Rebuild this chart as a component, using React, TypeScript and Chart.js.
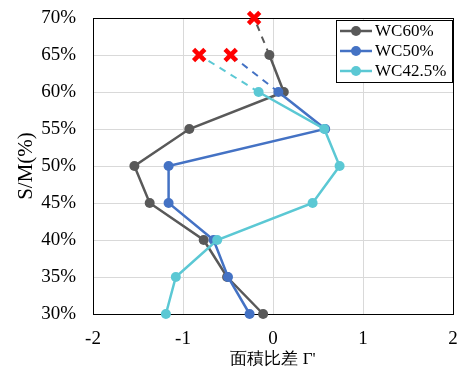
import React, { useEffect, useRef } from "react";
import { Chart, registerables } from "chart.js";
Chart.register(...registerables);

const seriesNames = ["WC60%", "WC50%", "WC42.5%"];
const seriesColors = ["#595959", "#4472C4", "#5BC8D4"];

const wc60Y = [30, 35, 40, 45, 50, 55, 60, 65];
const wc60X = [-0.11, -0.51, -0.77, -1.37, -1.54, -0.93, 0.12, -0.04];
const wc50Y = [30, 35, 40, 45, 50, 55, 60];
const wc50X = [-0.26, -0.5, -0.66, -1.16, -1.16, 0.58, 0.06];
const wc42Y = [30, 35, 40, 45, 50, 55, 60];
const wc42X = [-1.19, -1.08, -0.62, 0.44, 0.74, 0.57, -0.16];

const failX = [-0.21, -0.47, -0.82];
const failY = [70, 65, 65];

const xTicks = [-2, -1, 0, 1, 2];
const yTicks = [30, 35, 40, 45, 50, 55, 60, 65, 70];

const FONT = '"Liberation Serif", "Times New Roman", serif';

const pts = (xs: number[], ys: number[]) => xs.map((x, i) => ({ x, y: ys[i] }));

export default function App() {
  const ref = useRef<HTMLCanvasElement>(null);
  useEffect(() => {
    document.body.style.margin = "0";
    const ctx = ref.current!.getContext("2d")!;
    const seriesX = [wc60X, wc50X, wc42X];
    const seriesY = [wc60Y, wc50Y, wc42Y];
    const datasets: any[] = [];
    seriesX.forEach((xs, i) => {
      const ys = seriesY[i];
      datasets.push({
        label: seriesNames[i],
        data: pts(xs, ys),
        showLine: true,
        borderColor: seriesColors[i],
        backgroundColor: seriesColors[i],
        borderWidth: 2.5,
        pointRadius: 5,
        pointBorderWidth: 0,
        order: 3 - i,
        clip: false,
      });
      const last = xs.length - 1;
      datasets.push({
        label: "dash" + i,
        data: [
          { x: xs[last], y: ys[last] },
          { x: failX[i], y: failY[i] },
        ],
        showLine: true,
        borderColor: seriesColors[i],
        borderWidth: 2,
        borderDash: [7, 6],
        pointRadius: 0,
        order: 5,
        clip: false,
      });
    });
    datasets.push({
      label: "fail",
      data: pts(failX, failY),
      showLine: false,
      pointStyle: "crossRot",
      pointRadius: 8,
      borderColor: "#ff0000",
      backgroundColor: "#ff0000",
      pointBorderWidth: 4.5,
      borderWidth: 4.5,
      order: 0,
      clip: false,
    });

    const framePlugin = {
      id: "frame",
      beforeDatasetsDraw(chart: any) {
        const c = chart.ctx;
        const a = chart.chartArea;
        c.save();
        c.strokeStyle = "#000";
        c.lineWidth = 1;
        c.strokeRect(a.left + 0.5, a.top + 0.5, a.right - a.left, a.bottom - a.top);
        c.restore();
      },
      afterDraw(chart: any) {
        const c = chart.ctx;
        c.save();
        c.strokeStyle = "#000";
        c.lineWidth = 1;
        // legend
        const bx = 336, by = 20, bw = 116, bh = 62;
        c.fillStyle = "#fff";
        c.fillRect(bx, by, bw, bh);
        c.strokeRect(bx + 0.5, by + 0.5, bw, bh);
        c.font = `17px ${FONT}`;
        c.textBaseline = "middle";
        seriesNames.forEach((n, i) => {
          const yy = by + 11 + i * 20;
          c.strokeStyle = seriesColors[i];
          c.lineWidth = 2.5;
          c.beginPath();
          c.moveTo(340, yy);
          c.lineTo(372, yy);
          c.stroke();
          c.fillStyle = seriesColors[i];
          c.beginPath();
          c.arc(356, yy, 5, 0, Math.PI * 2);
          c.fill();
          c.fillStyle = "#000";
          c.fillText(n, 375, yy + 1);
        });
        c.restore();
      },
    };

    const chart = new Chart(ctx, {
      type: "scatter",
      data: { datasets },
      plugins: [framePlugin],
      options: {
        animation: false,
        responsive: false,
        maintainAspectRatio: false,
        layout: { padding: { top: 18, right: 14, left: 0, bottom: 0 } },
        plugins: { legend: { display: false }, tooltip: { enabled: false } },
        scales: {
          x: {
            type: "linear",
            min: -2,
            max: 2,
            afterBuildTicks: (s: any) => {
              s.ticks = xTicks.map((v) => ({ value: v }));
            },
            grid: { color: "#d9d9d9", drawTicks: false },
            border: { color: "#000", width: 1 },
            ticks: { color: "#000", font: { family: FONT, size: 19 }, padding: 14, maxRotation: 0 },
            title: {
              display: true,
              text: "面積比差 Γ'",
              color: "#000",
              font: { family: FONT, size: 17 },
              padding: { top: 0, bottom: 0 },
            },
            afterFit: (s: any) => {
              s.height = 56;
              s.paddingLeft = 0;
              s.paddingRight = 0;
              s.paddingTop = 0;
              s.paddingBottom = 0;
            },
          },
          y: {
            type: "linear",
            min: 30,
            max: 70,
            afterBuildTicks: (s: any) => {
              s.ticks = yTicks.map((v) => ({ value: v }));
            },
            grid: { color: "#d9d9d9", drawTicks: false },
            border: { color: "#000", width: 1 },
            ticks: {
              color: "#000",
              font: { family: FONT, size: 19 },
              padding: 17,
              callback: (v: any) => v + "%",
            },
            title: {
              display: true,
              text: "S/M(%)",
              color: "#000",
              font: { family: FONT, size: 21 },
              padding: { top: 14, bottom: 0 },
            },
            afterFit: (s: any) => {
              s.width = 93;
              s.paddingTop = 0;
              s.paddingBottom = 0;
              s.paddingLeft = 0;
              s.paddingRight = 0;
            },
          },
        },
      },
    } as any);
    return () => chart.destroy();
  }, []);
  return (
    <div style={{ position: "absolute", left: 0, top: 0, width: 467, height: 370 }}>
      <canvas ref={ref} width={467} height={370} style={{ width: 467, height: 370 }} />
    </div>
  );
}
